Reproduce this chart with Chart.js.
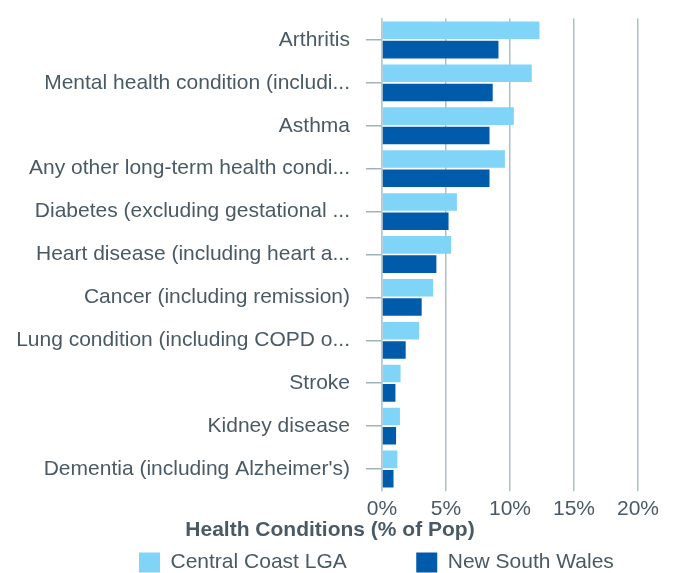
<!DOCTYPE html>
<html>
<head>
<meta charset="utf-8">
<script src="https://cdn.jsdelivr.net/npm/chart.js@4"></script>
<style>
  html, body { margin: 0; padding: 0; background: #ffffff; }
  #wrap { width: 676px; height: 573px; position: relative; }
</style>
</head>
<body>
<div id="wrap"><canvas id="c" width="676" height="573"></canvas></div>
<script>
const categories = [
  "Arthritis",
  "Mental health condition (includi...",
  "Asthma",
  "Any other long-term health condi...",
  "Diabetes (excluding gestational ...",
  "Heart disease (including heart a...",
  "Cancer (including remission)",
  "Lung condition (including COPD o...",
  "Stroke",
  "Kidney disease",
  "Dementia (including Alzheimer's)"
];
const centralCoast = [12.3, 11.7, 10.3, 9.6, 5.85, 5.4, 4.0, 2.9, 1.45, 1.4, 1.2];
const newSouthWales = [9.1, 8.65, 8.4, 8.4, 5.2, 4.25, 3.1, 1.85, 1.05, 1.1, 0.9];
const seriesNames = ["Central Coast LGA", "New South Wales"];
const xTicks = [0, 5, 10, 15, 20];
const chartTitle = "Health Conditions (% of Pop)";

const TEXT = "#4a5a64";
const GRID = "#a9c2ca";
const FONT = "'Liberation Sans', Arial, Helvetica, sans-serif";
const FS = 21;
const LEGEND_PAD = 69.5;

const placeBoxes = {
  id: 'placeBoxes',
  beforeLayout(chart) {
    const lg = chart.legend;
    if (lg && !lg._patched) {
      const f = lg.fit;
      lg.fit = function () { f.call(this); this.height = 0; };
      lg._patched = true;
    }
  },
  afterLayout(chart) {
    const t = chart.titleBlock;
    if (t) {
      t.left = 0; t.right = 660;
      t.top = 530 - FS * 0.6; t.bottom = t.top + FS * 1.2;
    }
    const lg = chart.legend;
    if (lg) {
      lg.left = 139 - LEGEND_PAD;
      lg.right = 900;
      lg.top = 552 - LEGEND_PAD;
      lg.bottom = lg.top + 100;
    }
  }
};

new Chart(document.getElementById('c'), {
  type: 'bar',
  data: {
    labels: categories,
    datasets: [
      { label: seriesNames[0], data: centralCoast, backgroundColor: '#7fd4f7', borderWidth: 0 },
      { label: seriesNames[1], data: newSouthWales, backgroundColor: '#005cab', borderWidth: 0 }
    ]
  },
  options: {
    indexAxis: 'y',
    responsive: false,
    animation: false,
    devicePixelRatio: 1,
    layout: { padding: { top: 18.5, right: 38, bottom: 20.1, left: 0 } },
    datasets: { bar: { categoryPercentage: 0.9, barPercentage: 0.91 } },
    scales: {
      x: {
        type: 'linear',
        min: xTicks[0],
        max: xTicks[xTicks.length - 1],
        afterBuildTicks(scale) { scale.ticks = xTicks.map(v => ({ value: v })); },
        afterFit(scale) { scale.paddingLeft = 0; scale.paddingRight = 0; },
        ticks: {
          color: TEXT,
          font: { family: FONT, size: FS },
          padding: 6,
          callback: v => v + '%'
        },
        grid: { color: GRID, lineWidth: 1.5, drawTicks: false },
        border: { display: false }
      },
      y: {
        afterFit(scale) { scale.width = 382; scale.paddingTop = 0; scale.paddingBottom = 0; },
        ticks: {
          color: TEXT,
          font: { family: FONT, size: FS },
          padding: 16,
          autoSkip: false
        },
        grid: { offset: false, drawOnChartArea: false, drawTicks: true, tickLength: 16, color: '#9fb4ba', lineWidth: 1.5 },
        border: { display: true, color: '#b9c8cc', width: 1.5 }
      }
    },
    plugins: {
      title: {
        display: true,
        text: chartTitle,
        position: 'bottom',
        weight: 500,
        color: TEXT,
        font: { family: FONT, size: FS, weight: 'bold', lineHeight: 1.2 },
        padding: 0
      },
      legend: {
        position: 'bottom',
        align: 'start',
        labels: {
          color: TEXT,
          font: { family: FONT, size: FS },
          boxWidth: 21,
          boxHeight: 20,
          padding: LEGEND_PAD
        }
      },
      tooltip: { enabled: false }
    }
  },
  plugins: [placeBoxes]
});
</script>
</body>
</html>
